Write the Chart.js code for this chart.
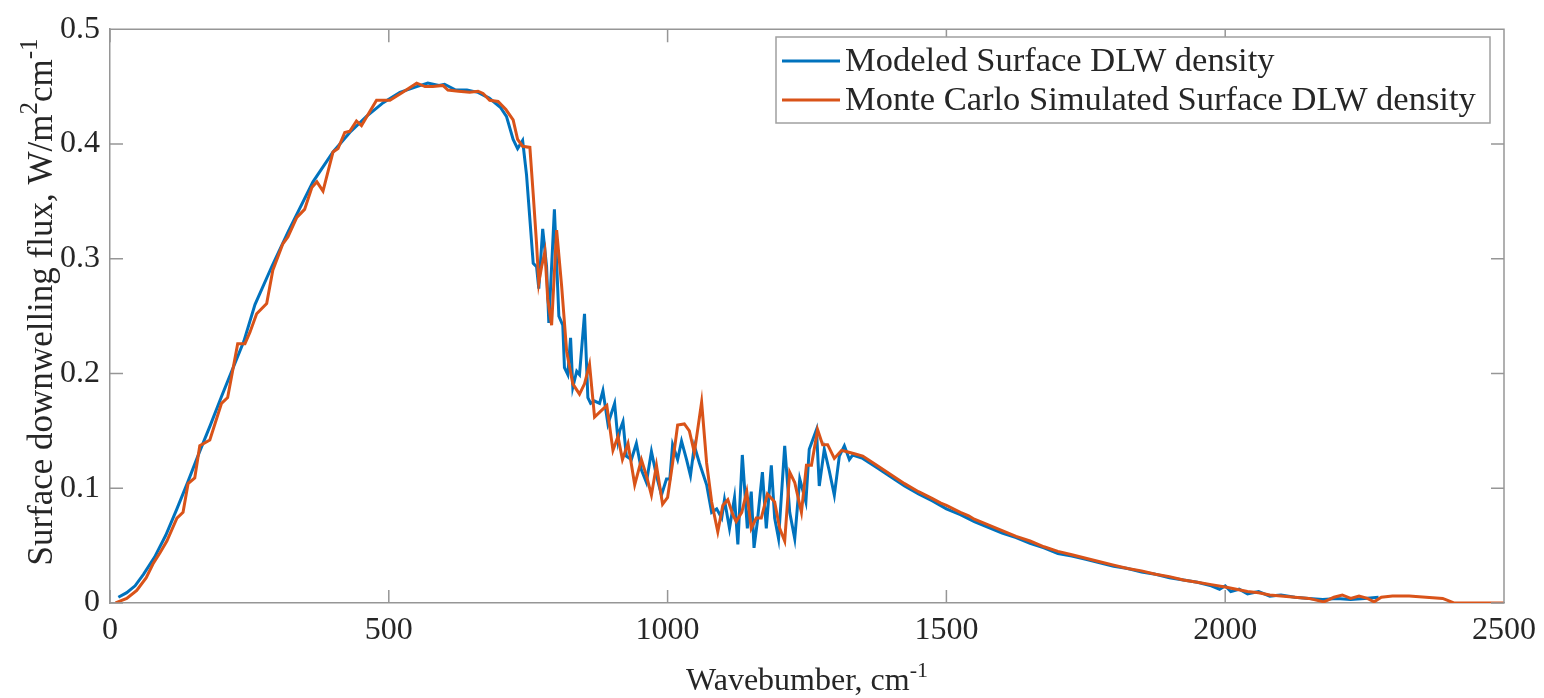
<!DOCTYPE html>
<html>
<head>
<meta charset="utf-8">
<script src="https://cdn.jsdelivr.net/npm/chart.js@4/dist/chart.umd.min.js"></script>
<style>
  html, body { margin: 0; padding: 0; background: #fff; }
  #chart { display: block; }
</style>
</head>
<body>
<canvas id="chart" width="1544" height="698"></canvas>
<script>
// spectra (wavenumber in cm-1, flux in W/m2cm-1)
const modeledX = [15, 30, 45, 60, 80, 100, 120, 140, 160, 180, 200, 220, 240, 260, 290, 320, 364, 400, 430, 460, 490, 520, 550, 570, 590, 600, 620, 640, 660, 680, 700, 711, 723, 731, 740, 747,
  759, 765, 769, 776, 783, 787, 797, 805, 812, 815, 821, 826, 830, 837, 842, 851, 857, 862, 869, 878, 884, 893, 905, 911, 914, 920, 926, 935, 944, 953, 962, 971, 980, 989, 998, 1004,
  1009, 1018, 1025, 1034, 1041, 1048, 1057, 1070, 1079, 1088, 1097, 1102, 1111, 1120, 1126, 1134, 1143, 1150, 1155, 1161, 1170, 1177, 1186, 1192, 1199, 1210, 1219, 1228, 1237, 1248,
  1254, 1267, 1272, 1281, 1290, 1299, 1308, 1317, 1326, 1332, 1350, 1375, 1400, 1425, 1450, 1475, 1500, 1525, 1550, 1575, 1600, 1625, 1650, 1675, 1700, 1725, 1750, 1775, 1800, 1825,
  1850, 1875, 1900, 1925, 1950, 1975, 1990, 2000, 2010, 2025, 2040, 2060, 2080, 2100, 2125, 2150, 2175, 2200, 2225, 2250, 2275];
const modeledY = [0.005, 0.009, 0.015, 0.025, 0.040, 0.059, 0.082, 0.106, 0.131, 0.155, 0.180, 0.204, 0.228, 0.260, 0.293, 0.324, 0.367, 0.393, 0.410, 0.424, 0.436, 0.445, 0.450, 0.453, 0.451, 0.452, 0.447, 0.447, 0.445, 0.440, 0.432, 0.424, 0.404, 0.396, 0.403, 0.373,
  0.296, 0.293, 0.274, 0.326, 0.293, 0.244, 0.343, 0.250, 0.242, 0.205, 0.199, 0.231, 0.188, 0.202, 0.199, 0.252, 0.179, 0.174, 0.176, 0.174, 0.185, 0.156, 0.174, 0.142, 0.150, 0.158, 0.128, 0.125, 0.139, 0.116, 0.105, 0.132, 0.111, 0.094, 0.108, 0.108,
  0.138, 0.125, 0.141, 0.125, 0.111, 0.137, 0.122, 0.103, 0.079, 0.082, 0.074, 0.090, 0.065, 0.092, 0.051, 0.129, 0.065, 0.097, 0.048, 0.071, 0.114, 0.065, 0.120, 0.074, 0.056, 0.137, 0.079, 0.056, 0.108, 0.088,
  0.134, 0.151, 0.102, 0.134, 0.115, 0.094, 0.128, 0.137, 0.125, 0.129, 0.126, 0.118, 0.110, 0.102, 0.095, 0.089, 0.082, 0.077, 0.071, 0.066, 0.061, 0.057, 0.052, 0.048, 0.043, 0.041, 0.038, 0.035, 0.032, 0.030,
  0.027, 0.025, 0.022, 0.020, 0.018, 0.015, 0.012, 0.015, 0.010, 0.012, 0.008, 0.010, 0.006, 0.007, 0.005, 0.004, 0.003, 0.004, 0.003, 0.004, 0.005];

const monteCarloX = [10, 20, 30, 48, 65, 77, 90, 102, 120, 131, 140, 152, 161, 179, 200, 211, 229, 242, 251, 263, 281, 292, 310, 319, 335, 349, 362, 371, 382, 400, 409, 421, 430, 442, 451, 478, 502, 525, 550, 565, 579, 597, 606, 625, 645, 660, 669, 681, 696, 710, 723, 731, 740, 753,
  759, 765, 769, 774, 780, 785, 792, 801, 810, 819, 830, 842, 851, 860, 869, 882, 891, 902, 911, 919, 929, 941, 953, 962, 971, 980, 991, 1000, 1009, 1018, 1030, 1039, 1048, 1061, 1070, 1079, 1090, 1099, 1108, 1117,
  1123, 1133, 1142, 1150, 1159, 1168, 1179, 1192, 1201, 1210, 1219, 1228, 1240, 1249, 1258, 1269, 1278, 1287, 1299, 1312, 1320, 1335, 1350, 1375, 1400, 1425, 1450, 1475, 1490, 1500, 1525, 1540, 1550, 1575, 1600,
  1625, 1650, 1675, 1700, 1725, 1750, 1775, 1800, 1825, 1850, 1875, 1900, 1925, 1950, 1975, 2000, 2020, 2040, 2060, 2080, 2100, 2125, 2150, 2177, 2195, 2210, 2225, 2240, 2255, 2267, 2280, 2300, 2330, 2360, 2390, 2400, 2410, 2450, 2500];
const monteCarloY = [0.000, 0.002, 0.004, 0.011, 0.022, 0.034, 0.044, 0.054, 0.074, 0.079, 0.104, 0.109, 0.137, 0.142, 0.174, 0.179, 0.226, 0.226, 0.236, 0.252, 0.261, 0.290, 0.313, 0.319, 0.336, 0.343, 0.362, 0.367, 0.359, 0.393, 0.396, 0.410, 0.411, 0.420, 0.416, 0.438, 0.438, 0.445, 0.453, 0.450, 0.450, 0.451, 0.447, 0.446, 0.445, 0.446, 0.444, 0.438, 0.437, 0.430, 0.421, 0.404, 0.398, 0.397,
  0.356, 0.313, 0.279, 0.293, 0.306, 0.265, 0.242, 0.325, 0.276, 0.219, 0.191, 0.182, 0.191, 0.208, 0.162, 0.168, 0.172, 0.133, 0.145, 0.125, 0.139, 0.103, 0.125, 0.111, 0.094, 0.120, 0.086, 0.092, 0.122, 0.155, 0.156, 0.150, 0.131, 0.175, 0.122, 0.088, 0.062, 0.085, 0.090, 0.077,
  0.071, 0.079, 0.097, 0.065, 0.074, 0.074, 0.095, 0.088, 0.065, 0.054, 0.114, 0.105, 0.079, 0.120, 0.120, 0.151, 0.138, 0.138, 0.126, 0.133, 0.132, 0.130, 0.128, 0.120, 0.112, 0.104, 0.097, 0.091, 0.087, 0.085, 0.079, 0.076, 0.073, 0.068, 0.063,
  0.058, 0.054, 0.049, 0.045, 0.042, 0.039, 0.036, 0.033, 0.030, 0.028, 0.025, 0.023, 0.020, 0.018, 0.016, 0.014, 0.012, 0.010, 0.009, 0.007, 0.006, 0.005, 0.004, 0.001, 0.005, 0.007, 0.004, 0.006, 0.004, 0.001, 0.005, 0.006, 0.006, 0.005, 0.004, 0.002, 0.000, 0.000, 0.000];

const xTicks = [0, 500, 1000, 1500, 2000, 2500];
const yTicks = [0, 0.1, 0.2, 0.3, 0.4, 0.5];
const seriesLabels = ['Modeled Surface DLW density', 'Monte Carlo Simulated Surface DLW density'];

const BLUE = '#0072BD';
const ORANGE = '#D95319';
const AXIS = '#969696';
const TEXT = '#262626';
const SERIF = '"Liberation Serif", "Times New Roman", serif';

const toPoints = (xs, ys) => xs.map((x, i) => ({ x: x, y: ys[i] }));

// text with raised pieces, e.g. 'cm' followed by a superscript '-1'
function drawRich(ctx, parts, x, y, size, align) {
    const supSize = Math.round(size * 0.7);
    const widthOf = p => {
        ctx.font = (p.sup ? supSize : size) + 'px ' + SERIF;
        return ctx.measureText(p.t).width;
    };
    const total = parts.reduce((s, p) => s + widthOf(p), 0);
    let cx = align === 'center' ? x - total / 2 : x;
    ctx.textAlign = 'left';
    ctx.textBaseline = 'alphabetic';
    parts.forEach(p => {
        const w = widthOf(p);
        ctx.fillText(p.t, cx, p.sup ? y - size * 0.42 : y);
        cx += w;
    });
}

const matlabLook = {
    id: 'matlabLook',
    afterDraw(chart) {
        const ctx = chart.ctx;
        const area = chart.chartArea;
        const xs = chart.scales.x;
        const ys = chart.scales.y;
        ctx.save();

        // box and inward ticks
        ctx.strokeStyle = AXIS;
        ctx.lineWidth = 1.5;
        ctx.beginPath();
        ctx.moveTo(area.left, area.top);
        ctx.lineTo(area.right, area.top);
        ctx.lineTo(area.right, area.bottom);
        const tl = 13;
        xTicks.forEach(v => {
            const px = xs.getPixelForValue(v);
            ctx.moveTo(px, area.bottom);
            ctx.lineTo(px, area.bottom - tl);
            ctx.moveTo(px, area.top);
            ctx.lineTo(px, area.top + tl);
        });
        yTicks.forEach(v => {
            const py = ys.getPixelForValue(v);
            ctx.moveTo(area.left, py);
            ctx.lineTo(area.left + tl, py);
            ctx.moveTo(area.right, py);
            ctx.lineTo(area.right - tl, py);
        });
        ctx.stroke();

        // axis titles
        ctx.fillStyle = TEXT;
        drawRich(ctx, [{ t: 'Wavebumber, cm' }, { t: '-1', sup: true }],
            (area.left + area.right) / 2, 690, 32, 'center');
        ctx.save();
        ctx.translate(52, 302);
        ctx.rotate(-Math.PI / 2);
        drawRich(ctx, [{ t: 'Surface downwelling flux, W/m' }, { t: '2', sup: true }, { t: 'cm' }, { t: '-1', sup: true }],
            0, 0, 35, 'center');
        ctx.restore();

        // legend
        const lx = 776, ly = 37, lw = 714, lh = 86;
        ctx.fillStyle = '#fff';
        ctx.fillRect(lx, ly, lw, lh);
        ctx.strokeStyle = '#a0a0a0';
        ctx.lineWidth = 1.5;
        ctx.strokeRect(lx, ly, lw, lh);
        const rows = [61, 100];
        chart.data.datasets.forEach((ds, i) => {
            ctx.strokeStyle = ds.borderColor;
            ctx.lineWidth = 3;
            ctx.beginPath();
            ctx.moveTo(782, rows[i]);
            ctx.lineTo(840, rows[i]);
            ctx.stroke();
            ctx.fillStyle = TEXT;
            ctx.font = '34.5px ' + SERIF;
            ctx.textAlign = 'left';
            ctx.textBaseline = 'middle';
            ctx.fillText(ds.label, 845, rows[i] + 1);
        });
        ctx.restore();
    }
};

new Chart(document.getElementById('chart'), {
    type: 'line',
    data: {
        datasets: [
            {
                label: seriesLabels[0],
                data: toPoints(modeledX, modeledY),
                borderColor: BLUE,
                borderWidth: 3,
                pointRadius: 0,
                tension: 0,
                order: 1
            },
            {
                label: seriesLabels[1],
                data: toPoints(monteCarloX, monteCarloY),
                borderColor: ORANGE,
                borderWidth: 3,
                pointRadius: 0,
                tension: 0,
                order: 0
            }
        ]
    },
    plugins: [matlabLook],
    options: {
        responsive: false,
        animation: false,
        layout: { padding: { top: 18, right: 39, left: 0, bottom: 0 } },
        plugins: {
            legend: { display: false },
            tooltip: { enabled: false }
        },
        scales: {
            x: {
                type: 'linear',
                min: 0,
                max: 2500,
                afterFit: s => { s.height = 95; },
                afterBuildTicks: s => { s.ticks = xTicks.map(v => ({ value: v })); },
                ticks: {
                    color: TEXT,
                    font: { family: SERIF, size: 32 },
                    padding: 8,
                    maxRotation: 0,
                    callback: v => String(v)
                },
                grid: { display: true, drawOnChartArea: false, drawTicks: false, color: AXIS },
                border: { display: true, color: AXIS, width: 1.5 }
            },
            y: {
                type: 'linear',
                min: 0,
                max: 0.5,
                afterFit: s => { s.width = 110; },
                afterBuildTicks: s => { s.ticks = yTicks.map(v => ({ value: v })); },
                ticks: {
                    color: TEXT,
                    font: { family: SERIF, size: 32 },
                    padding: 10,
                    callback: v => v === 0 ? '0' : v.toFixed(1)
                },
                grid: { display: true, drawOnChartArea: false, drawTicks: false, color: AXIS },
                border: { display: true, color: AXIS, width: 1.5 }
            }
        }
    }
});
</script>
</body>
</html>
